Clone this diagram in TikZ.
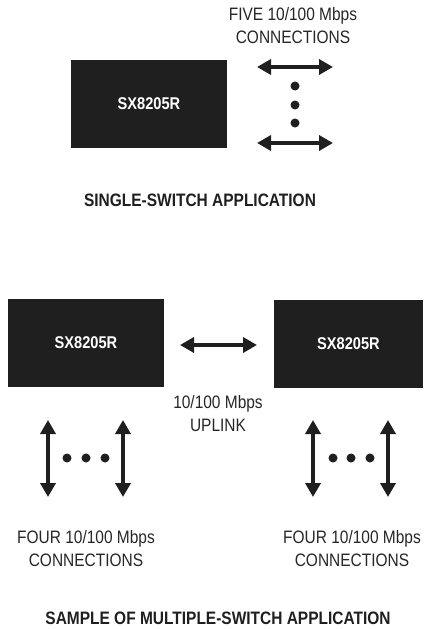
\documentclass[tikz,border=0pt]{standalone}
\usepackage{fontspec}
\setmainfont{Liberation Sans}[FakeStretch=0.86]
\usetikzlibrary{arrows.meta}
\tikzset{
  chip/.style={fill=black!88, draw=none, minimum width=156pt, minimum height=88pt, inner sep=0pt,
    text=white, font=\bfseries\fontsize{17}{20}\selectfont},
  lbl/.style={align=center, inner sep=0pt, font=\fontsize{18}{23}\selectfont, text=black!85},
  ttl/.style={inner sep=0pt, font=\bfseries\fontsize{18}{23}\selectfont, text=black!88},
  link/.style={line width=4.5pt, draw=black!88, {Triangle[length=14pt,width=15pt]}-{Triangle[length=14pt,width=15pt]}},
  dot/.style={circle, fill=black!88, minimum size=9pt, inner sep=0pt}
}
\begin{document}
\begin{tikzpicture}[x=1pt,y=-1pt]
\useasboundingbox (0,0) rectangle (423,629);
% single switch
\node[chip] (s1) at (149,104) {SX8205R};
\node[lbl] (fiveLbl) at (293,26) {FIVE 10/100 Mbps\\CONNECTIONS};
\coordinate (a1l) at (257,67); \coordinate (a1r) at (333,67);
\coordinate (a2l) at (257,143); \coordinate (a2r) at (333,143);
\draw[link] (a1l) -- (a1r);
\draw[link] (a2l) -- (a2r);
\node[dot] (d1) at (295,86) {};
\node[dot] (d2) at (295,105) {};
\node[dot] (d3) at (295,123) {};
\node[ttl] (t1) at (200,200) {SINGLE-SWITCH APPLICATION};
% multiple switch
\node[chip] (m1) at (86,343) {SX8205R};
\node[chip, minimum width=149pt] (m2) at (348.5,344) {SX8205R};
\coordinate (ul) at (180,345); \coordinate (ur) at (257,345);
\draw[link] (ul) -- (ur);
\node[lbl] (upLbl) at (218,414) {10/100 Mbps\\UPLINK};
% left port arrows
\coordinate (p1t) at (48,420); \coordinate (p1b) at (48,497);
\coordinate (p2t) at (123,420); \coordinate (p2b) at (123,497);
\draw[link] (p1t) -- (p1b);
\draw[link] (p2t) -- (p2b);
\node[dot] (e1) at (67,458) {};
\node[dot] (e2) at (86,458) {};
\node[dot] (e3) at (105,458) {};
% right port arrows
\coordinate (p3t) at (313,420); \coordinate (p3b) at (313,497);
\coordinate (p4t) at (388,420); \coordinate (p4b) at (388,497);
\draw[link] (p3t) -- (p3b);
\draw[link] (p4t) -- (p4b);
\node[dot] (f1) at (333,458) {};
\node[dot] (f2) at (351,458) {};
\node[dot] (f3) at (370,458) {};
\node[lbl] (fourL) at (86,549) {FOUR 10/100 Mbps\\CONNECTIONS};
\node[lbl] (fourR) at (352,549) {FOUR 10/100 Mbps\\CONNECTIONS};
\node[ttl] (t2) at (218,618) {SAMPLE OF MULTIPLE-SWITCH APPLICATION};
\end{tikzpicture}
\end{document}
